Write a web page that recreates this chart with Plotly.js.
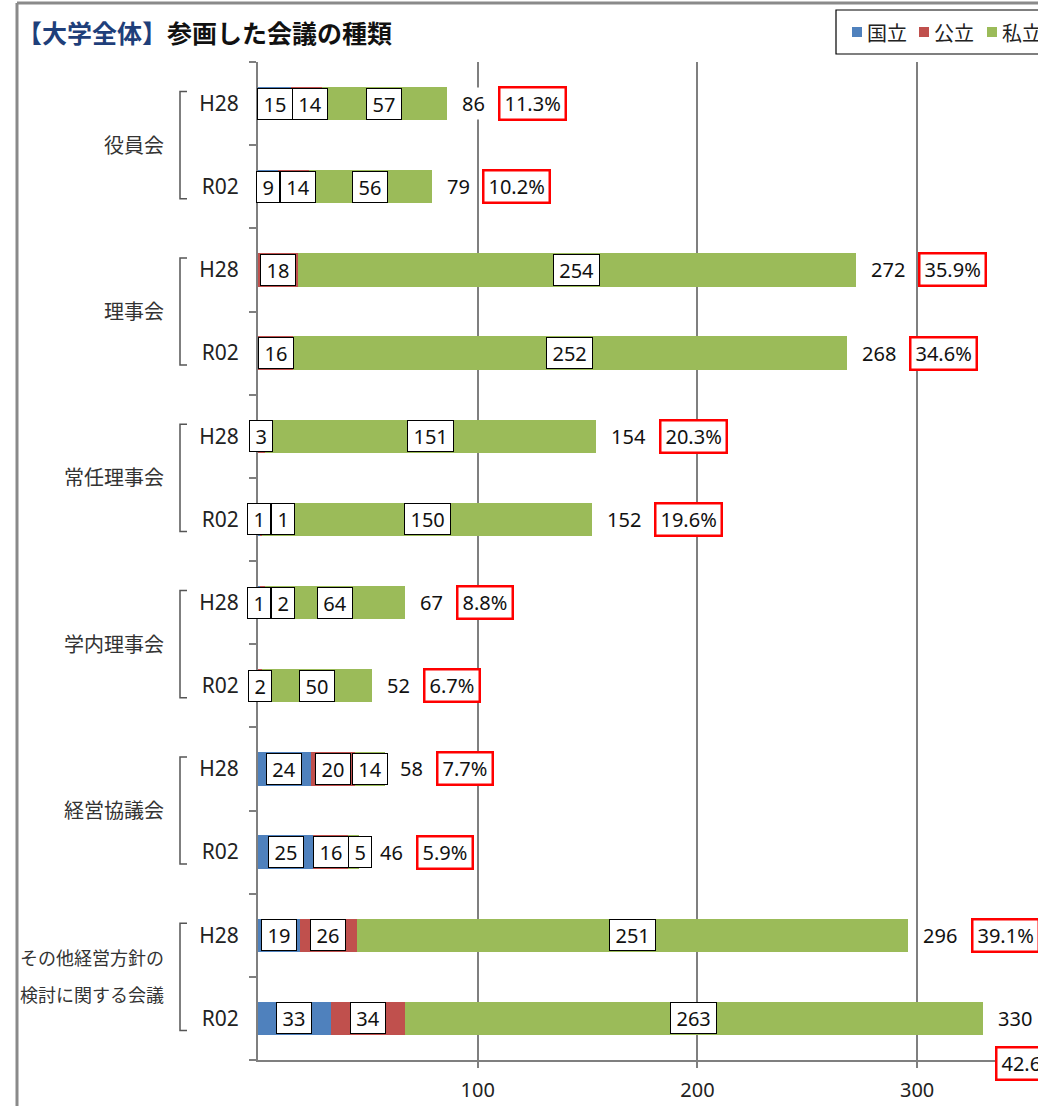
<!DOCTYPE html>
<html><head><meta charset="utf-8">
<script src="https://cdn.plot.ly/plotly-3.0.1.min.js"></script>
<style>html,body{margin:0;padding:0;background:#fff}#chart{width:1038px;height:1106px}</style>
</head><body><div id="chart"></div>
<script>
// ---- data ----
const groups = ['役員会','理事会','常任理事会','学内理事会','経営協議会','その他経営方針の検討に関する会議'];
const groupLines = [['役員会'],['理事会'],['常任理事会'],['学内理事会'],['経営協議会'],['その他経営方針の','検討に関する会議']];
const years = ['H28','R02'];
const seriesNames = ['国立','公立','私立'];
const kokuritsu = [15, 9, 0, 0, 0, 1, 1, 0, 24, 25, 19, 33];
const kouritsu  = [14, 14, 18, 16, 3, 1, 2, 2, 20, 16, 26, 34];
const shiritsu  = [57, 56, 254, 252, 151, 150, 64, 50, 14, 5, 251, 263];
const totals    = [86, 79, 272, 268, 154, 152, 67, 52, 58, 46, 296, 330];
const shares    = ['11.3%','10.2%','35.9%','34.6%','20.3%','19.6%','8.8%','6.7%','7.7%','5.9%','39.1%','42.6%'];
const xTicks = [100, 200, 300];
const titleMain = '参画した会議の種類';
const titleTag = '【大学全体】';

// ---- layout constants ----
const W = 1038, H = 1106, L = 258, T = 62, BM = 46, XMAX = 355;
const PW = W - L, PH = H - T - BM;
const k = PW / XMAX;
const rowH = PH / 12;
const colors = ['#4F81BD', '#C0504D', '#9BBB59'];
const FONT = '"Noto Sans", "Noto Sans CJK JP", sans-serif';
const LS = 20; // label font size
const px2x = px => (px - L) / PW;          // pixel -> paper x
const py2y = py => (H - BM - py) / PH;     // pixel -> paper y
const rowC = i => T + (i + 0.5) * rowH;

const keys = [], tickText = [];
groups.forEach(g => years.forEach(y => { keys.push(g + '|' + y); tickText.push(y); }));

const series = [kokuritsu, kouritsu, shiritsu];
const traces = series.map((vals, s) => ({
  type: 'bar', orientation: 'h', name: seriesNames[s],
  y: keys, x: vals, width: 0.4,
  marker: {color: colors[s], line: {width: 0}},
  showlegend: false, hoverinfo: 'x+name'
}));

const cv = document.createElement('canvas').getContext('2d');
function tw(txt, size) { cv.font = size + 'px "Noto Sans"'; return cv.measureText(txt).width; }

const ann = [], shapes = [];
keys.forEach((key, i) => {
  const yc = py2y(rowC(i));
  let cum = 0, prevRight = L - 14;
  series.forEach((vals, s) => {
    const v = vals[i];
    if (v > 0) {
      const t = String(v), w = tw(t, LS);
      const boxW = w + 13;
      const c = L + (cum + v / 2) * k;
      const left = Math.max(c - boxW / 2, prevRight);
      prevRight = left + boxW;
      ann.push({x: px2x(left), y: yc, xref: 'paper', yref: 'paper', xanchor: 'left', yanchor: 'middle',
        text: t, showarrow: false, font: {family: FONT, size: LS, color: '#111'},
        bgcolor: '#fff', bordercolor: '#000', borderwidth: 1, borderpad: 1, width: w + 9, height: 28});
    }
    cum += v;
  });
  // total
  const end = L + totals[i] * k;
  const tt = String(totals[i]), twT = tw(tt, LS);
  const tLeft = Math.max(end + 12, prevRight + 4);
  ann.push({x: px2x(tLeft), y: yc, xref: 'paper', yref: 'paper', xanchor: 'left', yanchor: 'middle',
    text: tt, showarrow: false, font: {family: FONT, size: LS, color: '#111'}, bgcolor: '#fff', borderpad: 2});
  // share
  const st = shares[i], sw = tw(st, LS);
  let left = tLeft + 2 + twT + 14, yshift = 0;
  if (left + sw + 11 > W + 20) { left = end + 12; yshift = 45; }
  ann.push({x: px2x(left), y: py2y(rowC(i) + yshift), xref: 'paper', yref: 'paper', xanchor: 'left', yanchor: 'middle',
    text: st, showarrow: false, font: {family: FONT, size: LS, color: '#111'},
    bgcolor: '#fff', bordercolor: '#FF0000', borderwidth: 2.5, borderpad: 1, width: sw + 6, height: 28});
});

// group labels + brackets
groupLines.forEach((lines, g) => {
  const y1 = rowC(2 * g), y2 = rowC(2 * g + 1), mid = (y1 + y2) / 2;
  if (lines.length === 1) {
    ann.push({x: px2x(166), y: py2y(mid), xref: 'paper', yref: 'paper', xanchor: 'right', yanchor: 'middle',
      text: lines[0], showarrow: false, font: {family: FONT, size: 20, color: '#333'}});
  } else {
    lines.forEach((ln, j) => ann.push({x: px2x(166), y: py2y(mid + (j - 0.5) * 37), xref: 'paper', yref: 'paper',
      xanchor: 'right', yanchor: 'middle', text: ln, showarrow: false, font: {family: FONT, size: 18, color: '#333'}}));
  }
  const top = y1 - 12, bot = y2 + 12;
  shapes.push({type: 'path', xref: 'paper', yref: 'paper',
    path: `M ${px2x(187)},${py2y(top)} L ${px2x(180)},${py2y(top)} L ${px2x(180)},${py2y(bot)} L ${px2x(187)},${py2y(bot)}`,
    line: {color: '#555', width: 1.5}});
});

// title
ann.push({x: px2x(15), y: py2y(32), xref: 'paper', yref: 'paper', xanchor: 'left', yanchor: 'middle', showarrow: false,
  text: `<b><span style="color:#1F3F7A">${titleTag}</span>${titleMain}</b>`,
  font: {family: '"Noto Sans CJK JP", sans-serif', size: 25, color: '#111'}});

// manual legend
shapes.push({type: 'rect', xref: 'paper', yref: 'paper', x0: px2x(836), x1: px2x(1060), y0: py2y(10), y1: py2y(54),
  line: {color: '#000', width: 1.2}, fillcolor: '#fff', layer: 'above'});
const legX = [852, 919, 987];
seriesNames.forEach((n, s) => {
  shapes.push({type: 'rect', xref: 'paper', yref: 'paper', x0: px2x(legX[s]), x1: px2x(legX[s] + 10),
    y0: py2y(27), y1: py2y(37), line: {width: 0}, fillcolor: colors[s], layer: 'above'});
  ann.push({x: px2x(legX[s] + 13), y: py2y(32), xref: 'paper', yref: 'paper', xanchor: 'left', yanchor: 'middle',
    text: n, showarrow: false, font: {family: '"Noto Sans CJK JP", sans-serif', size: 20, color: '#222'}});
});

// frame
shapes.push({type: 'line', xref: 'paper', yref: 'paper', x0: px2x(17), x1: px2x(1040), y0: py2y(3), y1: py2y(3), line: {color: '#8a8a8a', width: 3}});
shapes.push({type: 'line', xref: 'paper', yref: 'paper', x0: px2x(17), x1: px2x(17), y0: py2y(3), y1: py2y(1110), line: {color: '#8a8a8a', width: 3}});

const layout = {
  width: W, height: H, margin: {l: L, r: 0, t: T, b: BM, pad: 0},
  paper_bgcolor: '#fff', plot_bgcolor: '#fff', barmode: 'stack', showlegend: false,
  font: {family: FONT, color: '#222'},
  xaxis: {range: [0, XMAX], tickmode: 'array', tickvals: xTicks, showgrid: true, gridcolor: '#7f7f7f', gridwidth: 2,
    zeroline: false, showline: true, linecolor: '#7f7f7f', linewidth: 2, ticks: 'outside', ticklen: 6,
    tickcolor: '#7f7f7f', tickwidth: 2, tickfont: {family: FONT, size: 20, color: '#222'}, ticklabelstandoff: 5, fixedrange: true},
  yaxis: {type: 'category', categoryorder: 'array', categoryarray: keys, autorange: 'reversed',
    tickmode: 'array', tickvals: keys, ticktext: tickText, showgrid: false, zeroline: false,
    showline: true, linecolor: '#7f7f7f', linewidth: 2, ticks: 'outside', tickson: 'boundaries', ticklen: 7,
    tickcolor: '#7f7f7f', tickwidth: 2, tickfont: {family: FONT, size: 21, color: '#222'}, ticklabelstandoff: 13, fixedrange: true},
  annotations: ann, shapes: shapes
};
Plotly.newPlot('chart', traces, layout, {displayModeBar: false, staticPlot: true});
</script></body></html>
